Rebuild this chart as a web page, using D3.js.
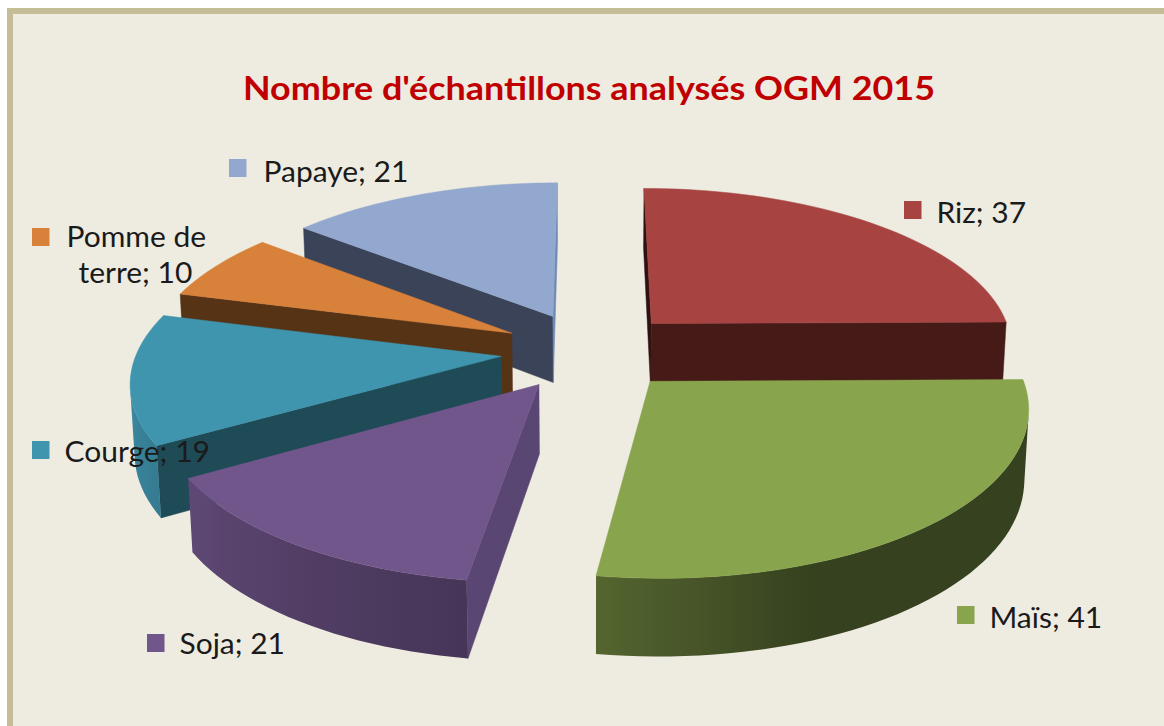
<!DOCTYPE html>
<html><head><meta charset="utf-8">
<script src="https://cdnjs.cloudflare.com/ajax/libs/d3/7.8.5/d3.min.js"></script>
<style>html,body{margin:0;padding:0;background:#fff}svg{display:block}text{font-family:Lato,Carlito,sans-serif}</style>
</head><body><svg id="c" width="1164" height="726"></svg>
<script>
const categories = ["Riz","Maïs","Soja","Courge","Pomme de terre","Papaye"];
const values = [37,41,21,19,10,21];
const topColors = ["#a74442","#88a44d","#71568c","#3f94ae","#d8813a","#93a8cf"];
const startFaceColors = ["#2e1110","#37411c","#5a4672","#1f4b56","#573316","#3a4358"];
const endFaceColors = ["#451a17","#37411c","#5a4672","#1f4b56","#573316","#7089b6"];
const title = "Nombre d'échantillons analysés OGM 2015";
const labelLines = [["Riz; 37"],["Maïs; 41"],["Soja; 21"],["Courge; 19"],["Pomme de","terre; 10"],["Papaye; 21"]];
const labelMarkers = [[904,201],[957,606],[147,634],[32,441],[32,228],[229,159]];
const labelAnchors = [[[936.5,222.5]],[[989.5,627.5]],[[179.5,653.5]],[[64.5,461.5]],[[66.5,246.5],[78.5,282.5]],[[263.5,181.5]]];

const svg = d3.select("#c");
const defs = svg.append("defs");
svg.append("rect").attr("x",7).attr("y",8).attr("width",1157).attr("height",718).attr("fill","#c4bd97");
svg.append("rect").attr("x",13).attr("y",14).attr("width",1151).attr("height",712).attr("fill","#eeebe0");
svg.append("text").attr("x",243).attr("y",100).attr("fill","#c00000").attr("font-weight",700)
  .attr("font-size",33).attr("textLength",692).attr("lengthAdjust","spacingAndGlyphs").text(title);

// perspective camera for the pie (unit radius)
const cam = {vx:590, hy:-819, A:8517, T:580, B:2650, D:7.28, dz:0.07, explode:0.245};
const project = (X,Y,z) => {
  const d = cam.D + cam.dz*z - Y;
  return [cam.vx + cam.B*X/d, cam.hy + (cam.A + cam.T*z)/d];
};
// rim brightness against the rim's angle (degrees clockwise from 12 o'clock)
const rimShade = d3.scaleLinear().domain([0,90,160,190,240,265,360]).range([.9,.40,.40,.63,.84,.97,.9]);
const line = d3.line();
const pie = d3.pie().sort(null).value(d=>d)(values);
const slices = pie.map((p,i)=>{
  const mid=(p.startAngle+p.endAngle)/2;
  return {i,p,ex:cam.explode*Math.sin(mid),ey:-cam.explode*Math.cos(mid)};
}).sort((a,b)=>a.ey-b.ey);
const area = pts => d3.polygonArea(pts);
const g = svg.append("g");
function face(pts,col){
  g.append("path").attr("d",line(pts)+"Z").attr("fill",col).attr("stroke",col).attr("stroke-width",.5);
}
slices.forEach(s=>{
  const {i,p,ex,ey}=s;
  const pt=(a,z)=>project(ex+Math.sin(a),ey-Math.cos(a),z);
  const c=(z)=>project(ex,ey,z);
  const sf=[c(0),pt(p.startAngle,0),pt(p.startAngle,1),c(1)];
  if(area(sf)>0) face(sf,startFaceColors[i]);
  const ef=[c(0),c(1),pt(p.endAngle,1),pt(p.endAngle,0)];
  if(area(ef)>0) face(ef,endFaceColors[i]);
  // rim: only the part that faces the viewer, shaded by a gradient along x
  const n=Math.ceil((p.endAngle-p.startAngle)/(Math.PI/90));
  const ang=d3.range(n+1).map(k=>p.startAngle+(p.endAngle-p.startAngle)*k/n);
  const vis=[];
  for(let k=0;k<n;k++){
    const q=[pt(ang[k],0),pt(ang[k+1],0),pt(ang[k+1],1),pt(ang[k],1)];
    if(area(q)>0){ if(!vis.length) vis.push(ang[k]); vis.push(ang[k+1]); }
  }
  if(vis.length>1){
    const base=d3.color(topColors[i]);
    const x0=pt(vis[0],0)[0], x1=pt(vis[vis.length-1],0)[0];
    const id="rim"+i;
    const grad=defs.append("linearGradient").attr("id",id).attr("gradientUnits","userSpaceOnUse")
      .attr("x1",x0).attr("x2",x1).attr("y1",0).attr("y2",0);
    vis.forEach(a=>{
      const f=rimShade(a*180/Math.PI);
      grad.append("stop").attr("offset",(pt(a,0)[0]-x0)/((x1-x0)||1))
        .attr("stop-color",d3.rgb(base.r*f,base.g*f,base.b*f).formatHex());
    });
    const poly=[...vis.map(a=>pt(a,0)),...vis.slice().reverse().map(a=>pt(a,1))];
    g.append("path").attr("d",line(poly)+"Z").attr("fill",`url(#${id})`);
  }
  const topPts=[c(0),...ang.map(a=>pt(a,0))];
  face(topPts,topColors[i]);
});
// labels: the reference's type is a little wider than the font, stretch by a constant
const widen=1.07;
categories.forEach((cat,i)=>{
  svg.append("rect").attr("x",labelMarkers[i][0]).attr("y",labelMarkers[i][1]).attr("width",17.5).attr("height",18).attr("fill",topColors[i]);
  labelLines[i].forEach((t,j)=>{
    const el=svg.append("text").attr("x",labelAnchors[i][j][0]).attr("y",labelAnchors[i][j][1])
      .attr("font-size",28).attr("fill","#1a1a1a").text(t);
    const w=el.node().getComputedTextLength();
    el.attr("textLength",w*widen).attr("lengthAdjust","spacingAndGlyphs");
  });
});
</script></body></html>
